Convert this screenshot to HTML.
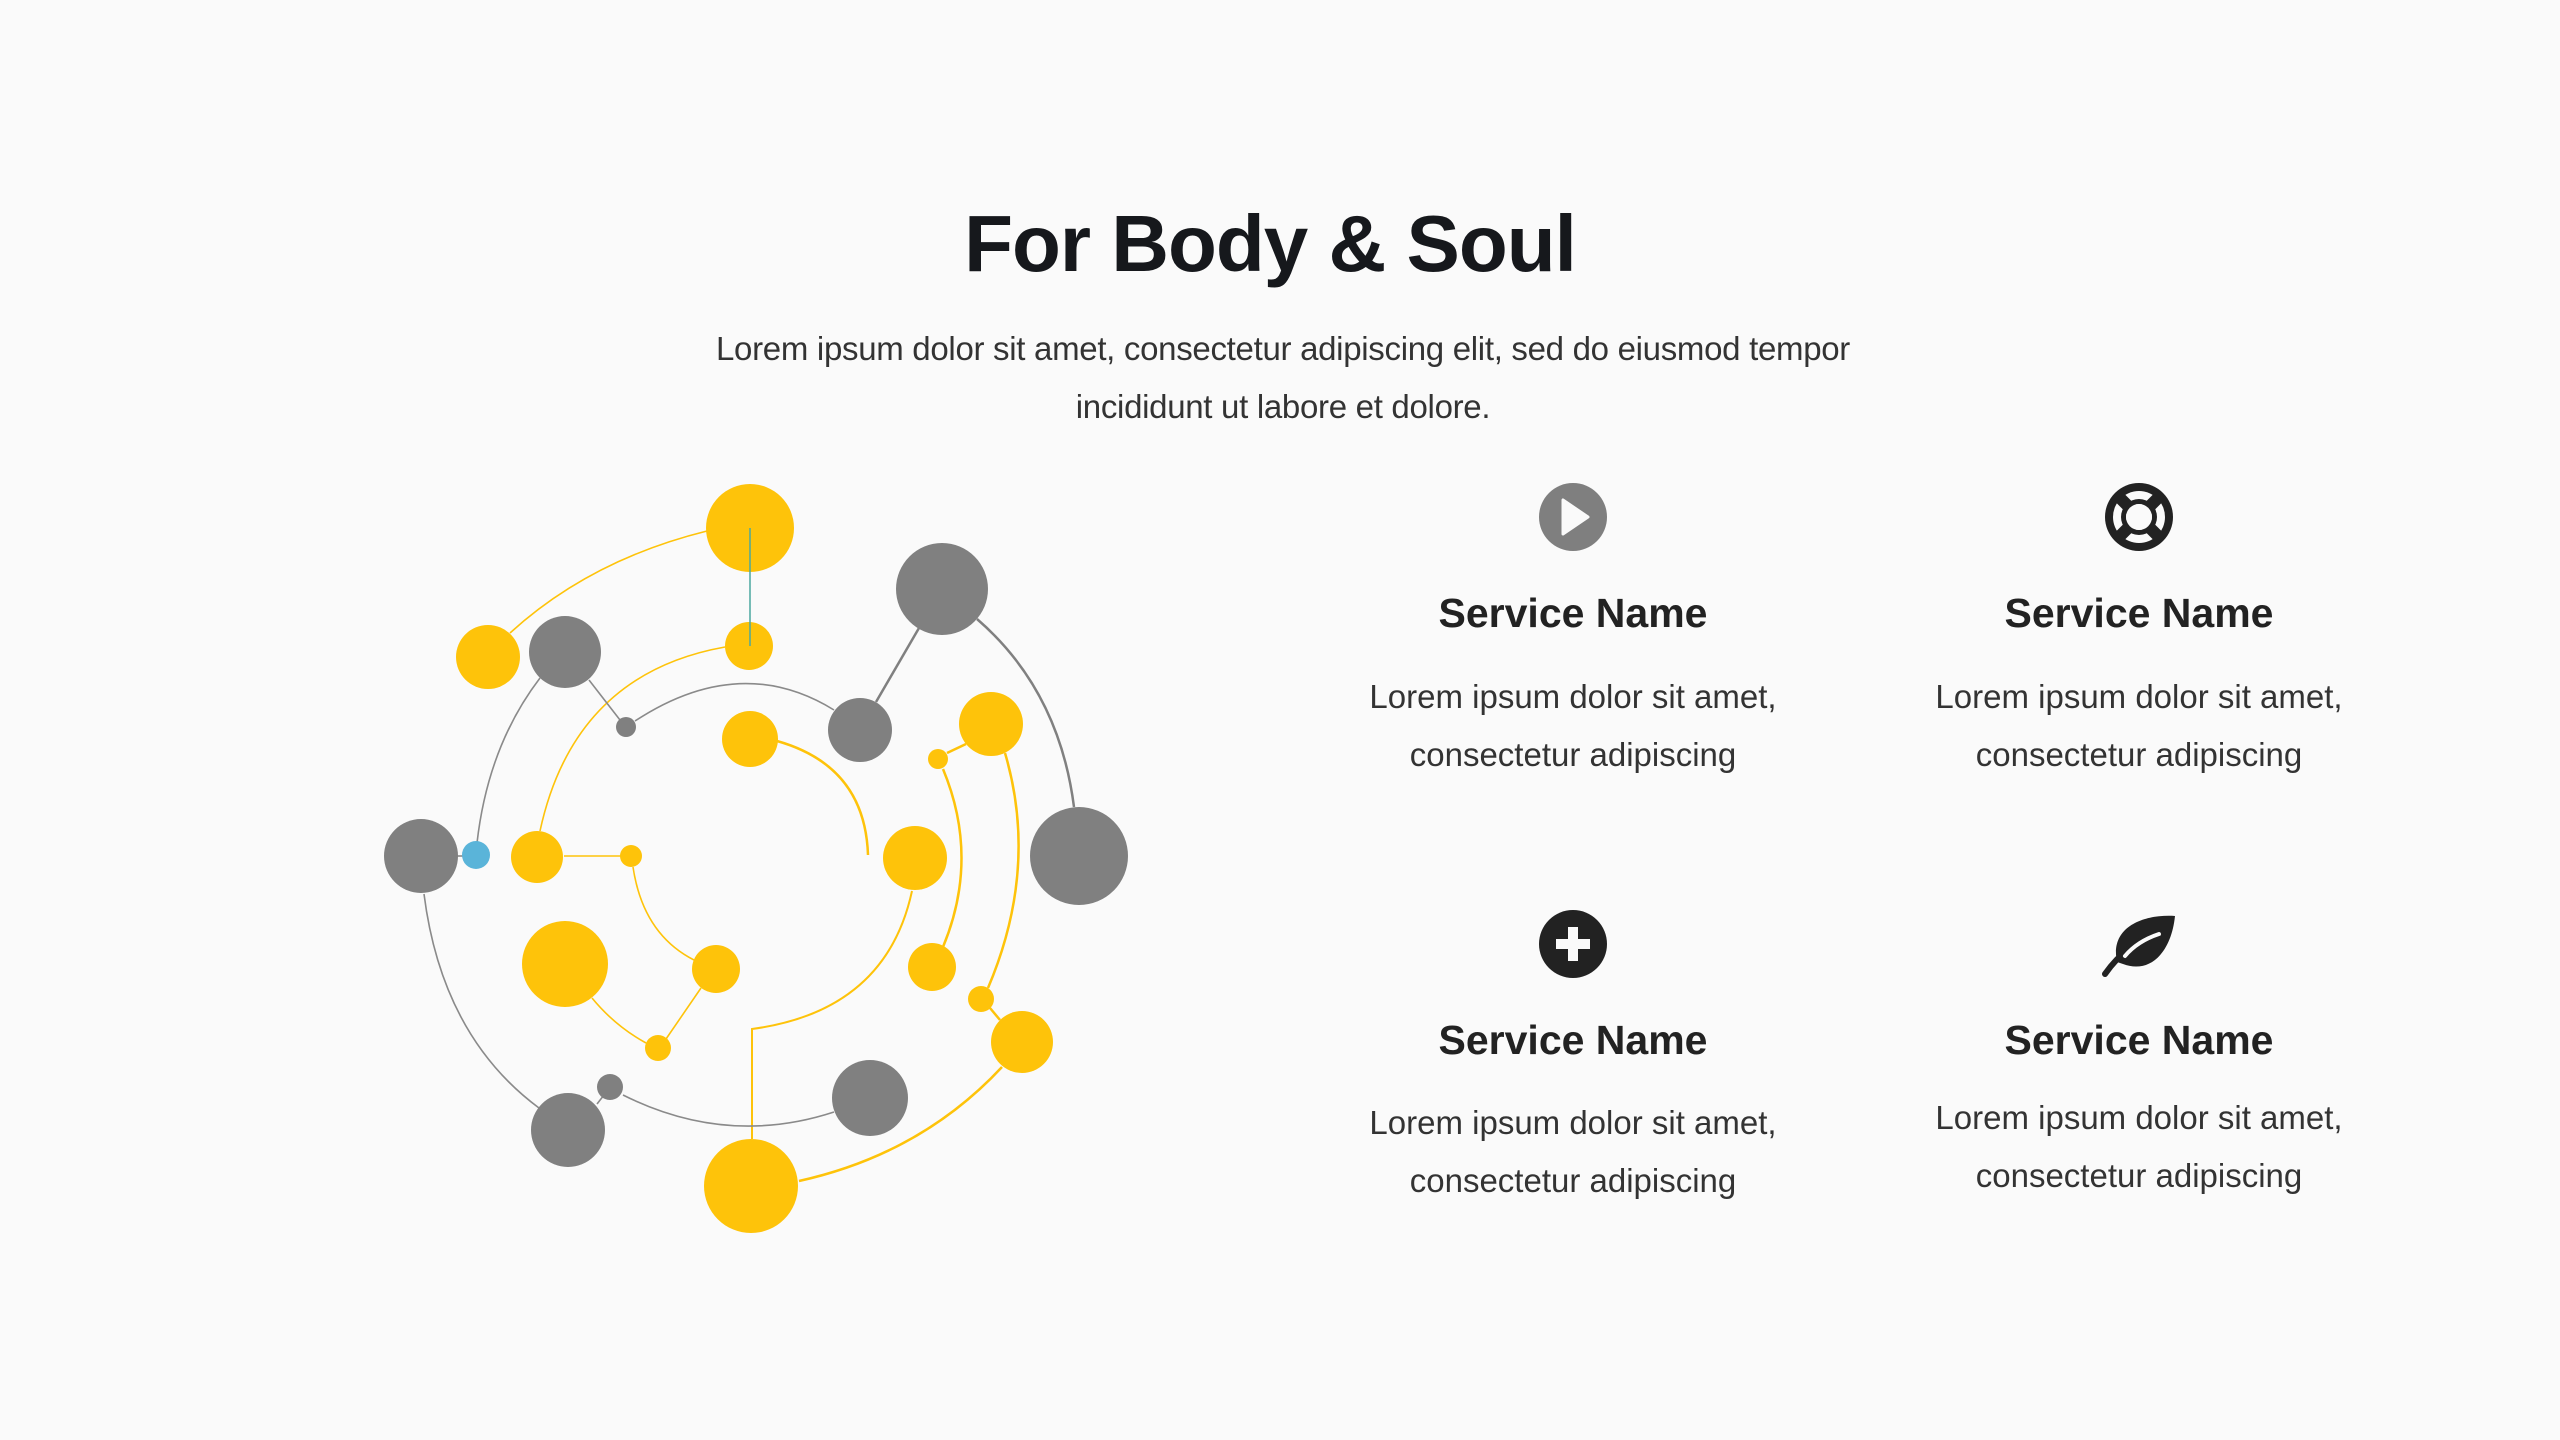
<!DOCTYPE html>
<html><head><meta charset="utf-8"><style>
html,body{margin:0;padding:0}
body{width:2560px;height:1440px;background:#fafafa;position:relative;overflow:hidden;font-family:"Liberation Sans",sans-serif;color:#222}
.t{position:absolute;white-space:nowrap;transform:translateX(-50%)}
h1{position:absolute;left:1270px;top:198px;transform:translateX(-50%);margin:0;font-size:80px;font-weight:bold;color:#16181c;white-space:nowrap;letter-spacing:-1px}
.sub{font-size:33px;color:#333;line-height:58px;text-align:center;letter-spacing:-0.3px}
.nm{font-size:41px;font-weight:bold;color:#222}
.ds{font-size:33px;color:#333;text-align:center;line-height:58px}
</style></head><body>
<h1>For Body &amp; Soul</h1>
<div class="t sub" style="left:1283px;top:320px">Lorem ipsum dolor sit amet, consectetur adipiscing elit, sed do eiusmod tempor<br>incididunt ut labore et dolore.</div>

<svg width="2560" height="1440" style="position:absolute;left:0;top:0">
<g fill="none" stroke-width="1.6">
<path d="M510 633 Q590 560 707 531" stroke="#fec30a"/>
<path d="M725 647 Q574 674 540 831" stroke="#fec30a"/>
<path d="M540 678 Q488 746 477 843" stroke="#8a8a8a"/>
<path d="M589 680 L620 720" stroke="#8a8a8a"/>
<path d="M635 721 Q740 652 834 710" stroke="#8a8a8a"/>
<path d="M876 702 L919 628" stroke="#808080" stroke-width="2.5"/>
<path d="M977 619 Q1059 690 1074 807" stroke="#808080" stroke-width="2.5"/>
<path d="M777 741 Q865 766 868 855" stroke="#fec30a" stroke-width="2.5"/>
<path d="M947 753 L966 744" stroke="#fec30a" stroke-width="2.5"/>
<path d="M943 769 Q980 858 943 947" stroke="#fec30a" stroke-width="2.5"/>
<path d="M1005 753 Q1039 868 988 988" stroke="#fec30a" stroke-width="2.5"/>
<path d="M990 1008 L1000 1020" stroke="#fec30a" stroke-width="2.5"/>
<path d="M1002 1067 Q921 1154 799 1181" stroke="#fec30a" stroke-width="2.5"/>
<path d="M912 891 Q886 1011 752 1029 L752 1139" stroke="#fec30a" stroke-width="2"/>
<path d="M564 856 L621 856" stroke="#fec30a"/>
<path d="M633 867 Q643 934 694 960" stroke="#fec30a"/>
<path d="M701 988 L666 1039" stroke="#fec30a"/>
<path d="M592 998 Q615 1026 646 1043" stroke="#fec30a"/>
<path d="M424 894 Q442 1036 539 1108" stroke="#8a8a8a"/>
<path d="M597 1104 L604 1095" stroke="#8a8a8a"/>
<path d="M623 1095 Q727 1147 834 1112" stroke="#8a8a8a"/>
<path d="M455 856 L465 856" stroke="#8a8a8a"/>
</g>
<g fill="#fec30a">
<circle cx="750" cy="528" r="44"/><circle cx="749" cy="646" r="24"/><circle cx="488" cy="657" r="32"/>
<circle cx="750" cy="739" r="28"/><circle cx="991" cy="724" r="32"/><circle cx="938" cy="759" r="10"/>
<circle cx="537" cy="857" r="26"/><circle cx="631" cy="856" r="11"/><circle cx="915" cy="858" r="32"/>
<circle cx="565" cy="964" r="43"/><circle cx="716" cy="969" r="24"/><circle cx="658" cy="1048" r="13"/>
<circle cx="932" cy="967" r="24"/><circle cx="981" cy="999" r="13"/><circle cx="1022" cy="1042" r="31"/>
<circle cx="751" cy="1186" r="47"/>
</g>
<line x1="750" y1="528" x2="750" y2="646" stroke="#4aa8a0" stroke-width="1.5"/>
<g fill="#808080">
<circle cx="565" cy="652" r="36"/><circle cx="626" cy="727" r="10"/><circle cx="942" cy="589" r="46"/>
<circle cx="860" cy="730" r="32"/><circle cx="1079" cy="856" r="49"/><circle cx="421" cy="856" r="37"/>
<circle cx="610" cy="1087" r="13"/><circle cx="568" cy="1130" r="37"/><circle cx="870" cy="1098" r="38"/>
</g>
<circle cx="476" cy="855" r="14" fill="#5ab4d9"/>

<circle cx="1573" cy="517" r="34" fill="#7f7f7f"/>
<path d="M1563 500 L1563 534 L1588 517 Z" fill="#fafafa" stroke="#fafafa" stroke-width="3" stroke-linejoin="round"/>
<g transform="translate(2139,517)">
<circle r="34" fill="#222"/><circle r="26" fill="#fafafa"/><circle r="18" fill="#222"/><circle r="13" fill="#fafafa"/>
<g fill="#222"><rect x="-6" y="-32" width="12" height="64" transform="rotate(45)"/><rect x="-6" y="-32" width="12" height="64" transform="rotate(-45)"/></g>
<circle r="13" fill="#fafafa"/>
</g>
<g transform="translate(1573,944)">
<circle r="34" fill="#222"/><rect x="-17" y="-5" width="34" height="10" fill="#fafafa"/><rect x="-5" y="-17" width="10" height="34" fill="#fafafa"/>
</g>
<g transform="translate(2139,944)">
<path d="M-22 18 C-30 -20 10 -30 36 -28 C32 10 10 30 -16 20 Z" fill="#222"/>
<path d="M-34 30 C-20 10 0 -6 22 -12" stroke="#222" stroke-width="6" fill="none" stroke-linecap="round"/>
<path d="M-14 12 C-4 0 8 -6 20 -10" stroke="#fafafa" stroke-width="4" fill="none" stroke-linecap="round"/>
</g>
</svg>

<div class="t nm" style="left:1573px;top:590px">Service Name</div>
<div class="t ds" style="left:1573px;top:668px">Lorem ipsum dolor sit amet,<br>consectetur adipiscing</div>
<div class="t nm" style="left:2139px;top:590px">Service Name</div>
<div class="t ds" style="left:2139px;top:668px">Lorem ipsum dolor sit amet,<br>consectetur adipiscing</div>
<div class="t nm" style="left:1573px;top:1017px">Service Name</div>
<div class="t ds" style="left:1573px;top:1094px">Lorem ipsum dolor sit amet,<br>consectetur adipiscing</div>
<div class="t nm" style="left:2139px;top:1017px">Service Name</div>
<div class="t ds" style="left:2139px;top:1089px">Lorem ipsum dolor sit amet,<br>consectetur adipiscing</div>
</body></html>
